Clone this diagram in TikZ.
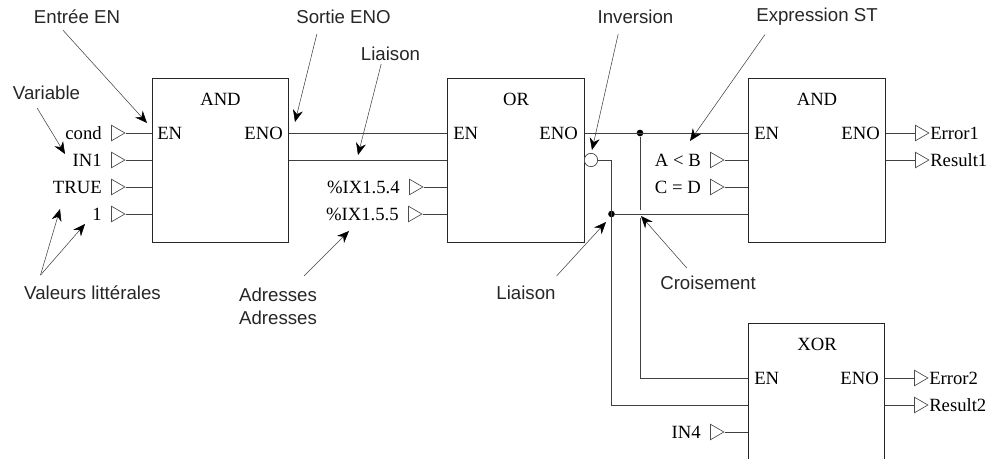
\documentclass[tikz,border=0pt]{standalone}
\usepackage{fontspec}
\setmainfont{Liberation Serif}
\newfontfamily\notefont{Liberation Sans}
\usetikzlibrary{arrows.meta,shapes.geometric}
\tikzset{
  wire/.style={draw=black!75, line width=0.7pt},
  block/.style={draw=black!85, line width=0.7pt, minimum width=102.5pt, minimum height=123pt, inner sep=0pt},
  pinmark/.style={draw=black!70, line width=0.5pt, isosceles triangle, isosceles triangle apex angle=60, minimum height=10pt, inner sep=0pt, minimum width=9pt},
  term/.style={font=\fontsize{14}{16}\selectfont, inner sep=0pt},
  note/.style={font=\notefont\fontsize{14}{17}\selectfont, inner sep=0pt, align=center, text=black!85},
  pointer/.style={draw=black!75, line width=0.4pt, -{Stealth[length=9pt,width=7.5pt,black]}},
  junction/.style={circle, fill=black, inner sep=0pt, minimum size=5pt},
  negation/.style={circle, draw=black!75, fill=white, line width=0.5pt, inner sep=0pt, minimum size=10pt}
}
\begin{document}
\begin{tikzpicture}[x=0.75pt,y=-0.75pt]
\clip (0,0) rectangle (1000,459);
\useasboundingbox (0,0) rectangle (1000,459);

% blocks
\node[block] (and1) at (220.5,160) {};
\node[block] (or1) at (516,160) {};
\node[block] (and2) at (817,160) {};
\node[block] (xor1) at (816.5,405) {};
\node[term] (and1t) at (220.5,99) {AND};
\node[term] (or1t) at (516,99) {OR};
\node[term] (and2t) at (817,99) {AND};
\node[term] (xor1t) at (817,344) {XOR};

% block pins
\node[term,anchor=west] (and1en) at (157,133) {EN};
\node[term,anchor=east] (and1eno) at (283,133) {ENO};
\node[term,anchor=west] (or1en) at (453,133) {EN};
\node[term,anchor=east] (or1eno) at (578,133) {ENO};
\node[term,anchor=west] (and2en) at (754,133) {EN};
\node[term,anchor=east] (and2eno) at (880,133) {ENO};
\node[term,anchor=west] (xor1en) at (754,378) {EN};
\node[term,anchor=east] (xor1eno) at (879,378) {ENO};

% inputs
\foreach \pname/\px/\py/\ptext in {
  cond/116/133/cond, inb/116/160/IN1, true/116/187/TRUE, one/116/214/1,
  addra/414/187/\%IX1.5.4, addrb/413/214/\%IX1.5.5,
  expa/715/160/A < B, expb/715/187/C = D, inf/715/432/IN4}
{
  \node[pinmark] (\pname) at (\px,\py) {};
  \node[term,anchor=east] (\pname t) at (\px-14,\py) {\ptext};
}
\draw[wire] (cond.apex) -- (cond.apex -| and1.west);
\draw[wire] (inb.apex) -- (inb.apex -| and1.west);
\draw[wire] (true.apex) -- (true.apex -| and1.west);
\draw[wire] (one.apex) -- (one.apex -| and1.west);
\draw[wire] (addra.apex) -- (addra.apex -| or1.west);
\draw[wire] (addrb.apex) -- (addrb.apex -| or1.west);
\draw[wire] (expa.apex) -- (expa.apex -| and2.west);
\draw[wire] (expb.apex) -- (expb.apex -| and2.west);
\draw[wire] (inf.apex) -- (inf.apex -| xor1.west);

% outputs
\foreach \pname/\px/\py/\ptext/\pblock in {
  erra/920/133/Error1/and2, resa/920/160/Result1/and2,
  errb/919/378/Error2/xor1, resb/919/405/Result2/xor1}
{
  \node[pinmark] (\pname) at (\px,\py) {};
  \node[term,anchor=west] (\pname t) at (\px+10,\py) {\ptext};
  \draw[wire] (\pname.west) -- (\pname.west -| \pblock.east);
}

% links
\node[negation] (inv) at (591,160) {};
\node[junction] (dota) at (640,133) {};
\node[junction] (dotb) at (611.5,214) {};
\coordinate (bendc) at (611.5,160);
\coordinate (bendd) at (640,378);
\coordinate (bende) at (611.5,405);
\coordinate (crossa) at (640,210);
\coordinate (crossb) at (640,218);
\draw[wire] (and1.east |- and1en) -- (or1.west |- or1en);
\draw[wire] (and1.east |- inb) -- (or1.west |- inb);
\draw[wire] (or1.east |- or1eno) -- (and2.west |- and2en);
\draw[wire] (dota) -- (crossa);
\draw[wire] (crossb) -- (bendd) -- (xor1.west |- bendd);
\draw[wire] (inv) -- (bendc) -- (bende) -- (xor1.west |- bende);
\draw[wire] (dotb) -- (and2.west |- dotb);

% notes
\node[note] (nentree) at (77,17) {Entrée EN};
\node[note] (nsortie) at (343.5,17) {Sortie ENO};
\node[note] (nvar) at (46.5,93) {Variable};
\node[note] (nliaa) at (390.5,54) {Liaison};
\node[note] (ninv) at (635.5,17) {Inversion};
\node[note] (nexpr) at (817,17) {Expression ST};
\node[note] (nval) at (92.5,293) {Valeurs littérales};
\node[note,anchor=north] (naddr) at (278,288) {Adresses\\Adresses};
\node[note] (nliab) at (526,293) {Liaison};
\node[note] (ncrois) at (708,283) {Croisement};

\coordinate (pentree) at (147,123);
\coordinate (psortie) at (295,122);
\coordinate (pvar) at (65,154);
\coordinate (pliaa) at (358,155);
\coordinate (pinv) at (592,150);
\coordinate (pexpr) at (690,141);
\coordinate (pvala) at (60,209);
\coordinate (pvalb) at (85,224);
\coordinate (paddr) at (349,231);
\coordinate (pliab) at (606,222);
\coordinate (pcrois) at (641,216);

\draw[pointer] ([xshift=-10.5pt,yshift=-4.5pt]nentree.south) -- (pentree);
\draw[pointer] ([xshift=-20pt,yshift=-7.5pt]nsortie.south) -- (psortie);
\draw[pointer] ([xshift=-7pt,yshift=-6pt]nvar.south) -- (pvar);
\draw[pointer] ([xshift=-7pt,yshift=-2.25pt]nliaa.south) -- (pliaa);
\draw[pointer] ([xshift=-13pt,yshift=-7.5pt]ninv.south) -- (pinv);
\draw[pointer] ([xshift=-39pt,yshift=-6.4pt]nexpr.south) -- (pexpr);
\draw[pointer] ([xshift=-39pt,yshift=8pt]nval.north) -- (pvala);
\draw[pointer] ([xshift=-39pt,yshift=8pt]nval.north) -- (pvalb);
\draw[pointer] ([xshift=19.5pt,yshift=9pt]naddr.north) -- (paddr);
\draw[pointer] ([xshift=23pt,yshift=7.5pt]nliab.north) -- (pliab);
\draw[pointer] ([xshift=-16pt,yshift=6pt]ncrois.north) -- (pcrois);
\end{tikzpicture}
\end{document}
